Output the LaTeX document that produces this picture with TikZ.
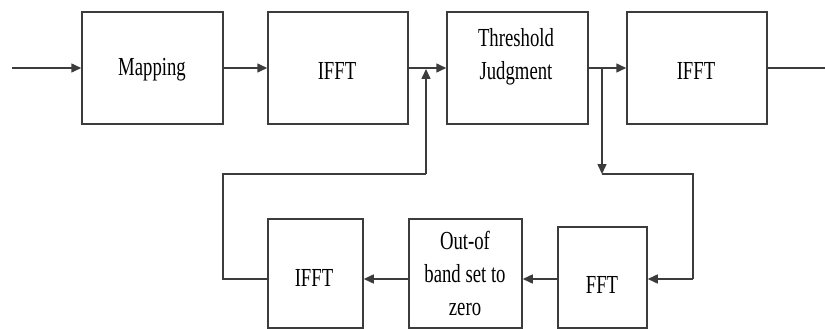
\documentclass[tikz,border=0pt]{standalone}
\usepackage{fontspec}
\setmainfont{Liberation Serif}
\usetikzlibrary{arrows.meta}
\definecolor{ln}{RGB}{60,60,60}
\newcommand{\sqz}[1]{\scalebox{0.72}[1]{#1}}
\begin{document}
\begin{tikzpicture}[x=1pt,y=-1pt,
  blk/.style={draw=ln,line width=1.5pt,minimum width=#1,inner sep=0pt},
  txt/.style={font=\fontsize{26}{33}\selectfont,align=center,inner sep=0pt},
  wire/.style={draw=ln,line width=1.5pt},
  arr/.style={wire,-{Triangle[length=10pt,width=9pt]}}]
\useasboundingbox (0,0) rectangle (825,329);
% top row boxes
\node[blk=141pt,minimum height=112pt] (map) at (152.5,68) {};
\node[blk=140pt,minimum height=112pt] (ifftA) at (338,68) {};
\node[blk=141pt,minimum height=112pt] (thr) at (517.5,68) {};
\node[blk=140pt,minimum height=112pt] (ifftB) at (697,68) {};
% bottom row boxes
\node[blk=95pt,minimum height=109pt] (ifftC) at (315.5,273.5) {};
\node[blk=113pt,minimum height=109pt] (oob) at (465.5,273.5) {};
\node[blk=89pt,minimum height=101pt] (fft) at (602.5,277.5) {};
% texts (base anchor = baseline of last line)
\node[txt,anchor=base] (tmap) at (152,75) {\sqz{Mapping}};
\node[txt,anchor=base] (tifftA) at (337,80) {\sqz{IFFT}};
\node[txt,anchor=base] (tthr) at (516,80) {\sqz{Threshold}\\\sqz{Judgment}};
\node[txt,anchor=base] (tifftB) at (696,80) {\sqz{IFFT}};
\node[txt,anchor=base] (tifftC) at (314,286) {\sqz{IFFT}};
\node[txt,anchor=base] (toob) at (465,315) {\sqz{Out-of}\\\sqz{band set to}\\\sqz{zero}};
\node[txt,anchor=base] (tfft) at (602,293) {\sqz{FFT}};
% coordinates
\coordinate (in) at (12,68);
\coordinate (out) at (825,68);
\coordinate (j1) at (602,68);
\coordinate (c1) at (602,174);
\coordinate (c2) at (693,174);
\coordinate (c3) at (693,279);
\coordinate (d1) at (223,279);
\coordinate (d2) at (223,174);
\coordinate (d3) at (426,174);
\coordinate (d4) at (426,69);
% connectors
\draw[arr] (in) -- (map.west);
\draw[arr] (map.east) -- (ifftA.west);
\draw[arr] (ifftA.east) -- (thr.west);
\draw[arr] (thr.east) -- (ifftB.west);
\draw[wire] (ifftB.east) -- (out);
\draw[arr] (j1) -- (c1);
\draw[wire] (c1) -- (c2) -- (c3);
\draw[arr] (c3) -- (c3 -| fft.east);
\draw[arr] (fft.west |- c3) -- (oob.east |- c3);
\draw[arr] (oob.west |- c3) -- (ifftC.east |- c3);
\draw[wire] (ifftC.west |- c3) -- (d1) -- (d2) -- (d3);
\draw[arr] (d3) -- (d4);
\end{tikzpicture}
\end{document}
